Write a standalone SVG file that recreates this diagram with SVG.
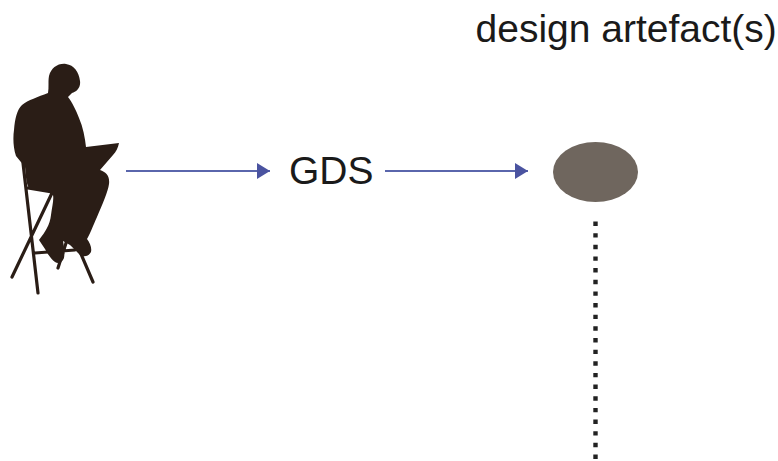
<svg xmlns="http://www.w3.org/2000/svg" width="778" height="461" viewBox="0 0 778 461">
<style>
text{font-family:"Liberation Sans",Arial,sans-serif;fill:#1a1a1a;font-size:39px}
.c{stroke:#5a66ac;stroke-width:2;fill:none;marker-end:url(#a)}
.s{stroke:#2a1d16;stroke-width:3.2;fill:none;stroke-linecap:round}
</style>
<defs><marker id="a" markerUnits="userSpaceOnUse" markerWidth="14" markerHeight="16" refX="13" refY="8" orient="auto"><path d="M0 0L13 8L0 16Z" fill="#4a53a0"/></marker></defs>
<rect width="778" height="461" fill="#fff"/>
<g id="person">
<path class="s" d="M23 163L38 293M52 193L12 277M28 188L52 192M67 240L58 268M78 247L93 282M35 253L75 250"/>
<path fill="#2a1d16" d="M49 76C51 68 58 63 66 64C74 65 79 72 80 81C81 88 76 92 72 93L68 97C72 102 76 110 79 118C83 127 85 138 86 147L119 143C118 148 116 152 113 155L100 170C106 172 110 176 109 184C108 192 102 205 97 217C93 226 90 234 87 239C90 243 92 248 91 252C88 257 84 257 80 255C76 251 72 247 70 245L63 241C64 247 65 252 64 258C62 263 58 264 55 262C51 259 47 253 45 249L39 240C45 232 50 225 51 215C52 207 54 200 53 195L50 192L30 189C26 186 26 175 25 167L16 156C13 147 13 137 14 130C15 118 17 110 22 105C28 100 38 97 48 93C49 87 48 81 49 76Z"/>
</g>
<g id="connectors">
<path class="c" d="M126 171H270"/>
<path class="c" d="M385 171H528"/>
<path d="M595.500 221.500V459" stroke="#222" stroke-width="4.400" stroke-dasharray="4.400 7.250" fill="none"/>
</g>
<g id="gds"><text x="289" y="184">GDS</text></g>
<g id="artefact"><ellipse cx="595.5" cy="172" rx="42.5" ry="30" fill="#6f665e"/><text x="475.500" y="42">design artefact(s)</text></g>
</svg>
